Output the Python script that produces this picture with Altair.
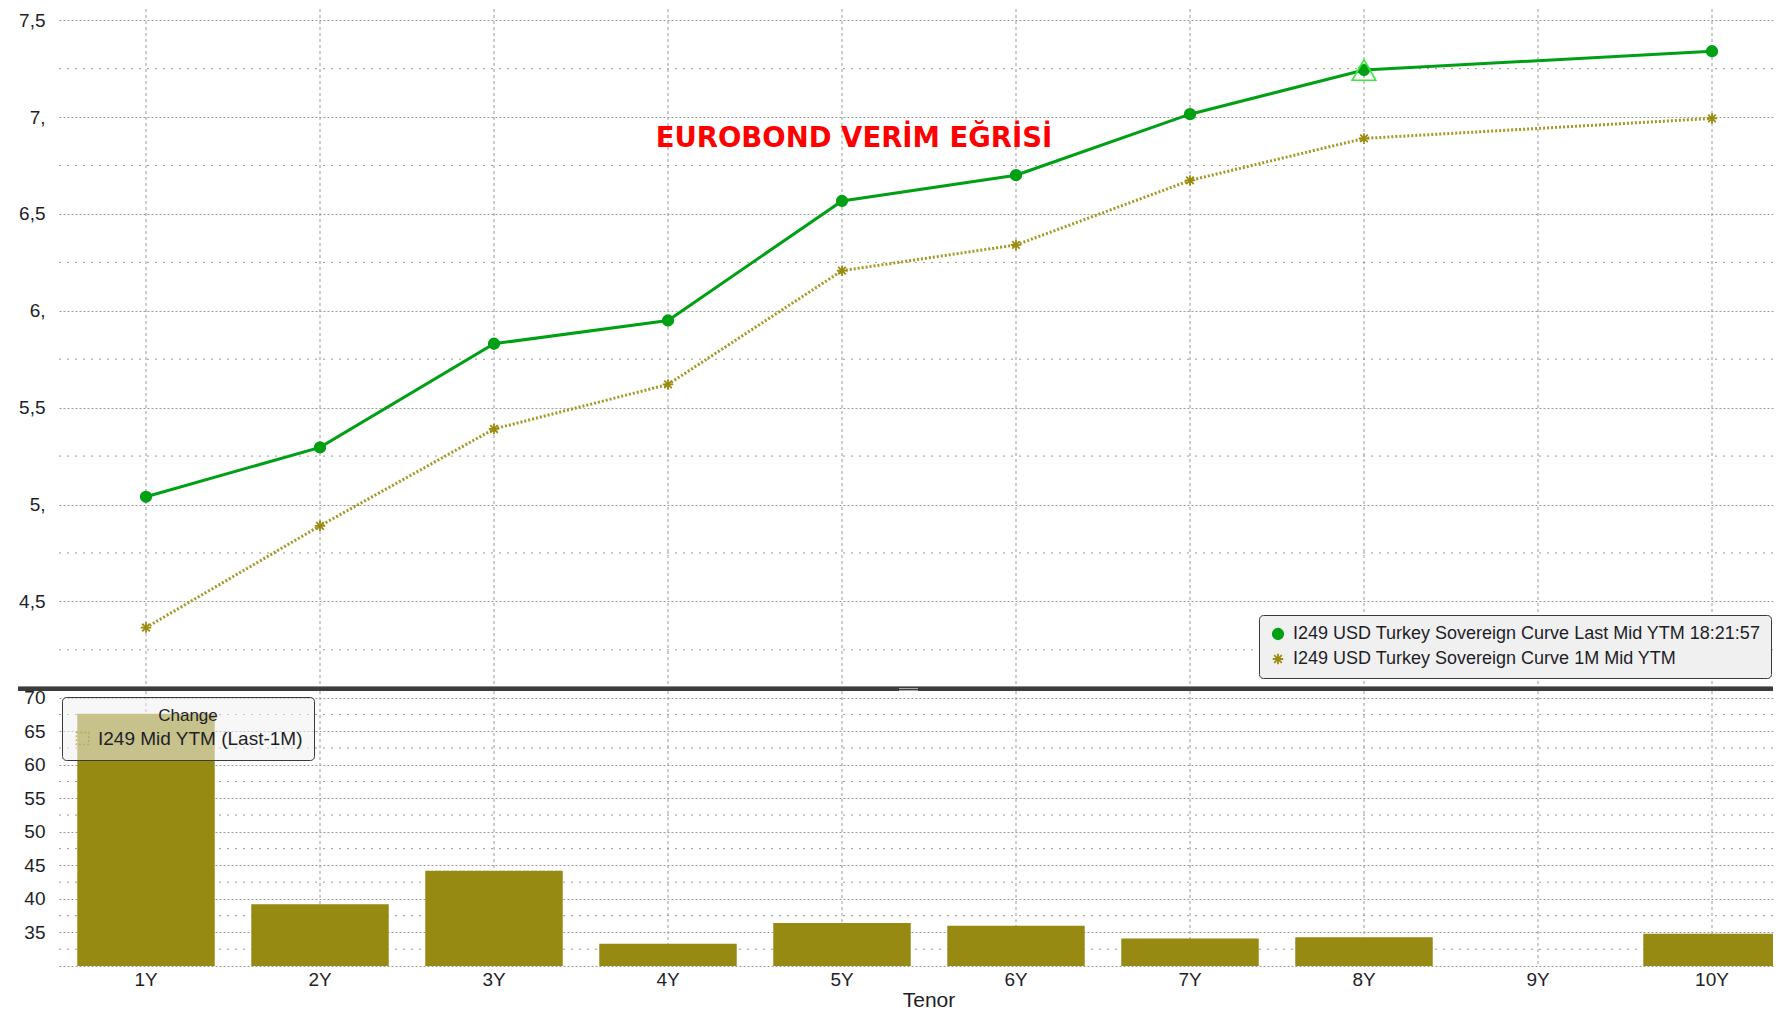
import altair as alt
import pandas as pd

# ---------------- data ----------------
tenors = ["1Y", "2Y", "3Y", "4Y", "5Y", "6Y", "7Y", "8Y", "9Y", "10Y"]
last_mid = [5.04, 5.295, 5.83, 5.95, 6.567, 6.70, 7.015, 7.243, None, 7.34]
one_m_mid = [4.365, 4.89, 5.39, 5.62, 6.207, 6.34, 6.673, 6.89, None, 6.993]
change_bp = [67.6, 39.2, 44.2, 33.3, 36.4, 36.0, 34.1, 34.3, None, 34.8]
series_names = [
    "I249 USD Turkey Sovereign Curve Last Mid YTM 18:21:57",
    "I249 USD Turkey Sovereign Curve 1M Mid YTM",
]
change_name = "I249 Mid YTM (Last-1M)"
highlight_tenor = ["8Y"]
top_ticks = [4.5, 5.0, 5.5, 6.0, 6.5, 7.0, 7.5]
top_minor = [4.25, 4.75, 5.25, 5.75, 6.25, 6.75, 7.25]
bottom_ticks = [30, 35, 40, 45, 50, 55, 60, 65, 70]
bottom_minor = [32.5, 37.5, 42.5, 47.5, 52.5, 57.5, 62.5, 67.5]
chart_title = "EUROBOND VERİM EĞRİSİ"
x_title = "Tenor"

# ---------------- tables ----------------
rows = []
for name, vals in zip(series_names, [last_mid, one_m_mid]):
    for t, v in zip(tenors, vals):
        rows.append({"series": name, "tenor": t, "value": v})
lines_df = pd.DataFrame(rows).dropna()
bars_df = pd.DataFrame({"tenor": tenors, "change": change_bp, "label": change_name}).dropna()
hl_df = pd.DataFrame({"tenor": highlight_tenor,
                      "value": [last_mid[tenors.index(t)] for t in highlight_tenor]})
tenor_df = pd.DataFrame({"tenor": tenors})
top_minor_df = pd.DataFrame({"value": top_minor})
bot_minor_df = pd.DataFrame({"change": bottom_minor})

# ---------------- style ----------------
FONT = "Liberation Sans"
TXT = "#1e1e28"
GRID = "#9a9a9a"
GREEN = "#00a014"
OLIVE_LINE = "#a39824"
OLIVE_BAR = "#968a12"
W = 1714
TOP_H = 678
BOT_H = 275
ASTER = "M-1,0L1,0M0,-1L0,1M-0.72,-0.72L0.72,0.72M-0.72,0.72L0.72,-0.72"

# the plot is cut at the right edge like the reference: the band range runs past the view
x_scale = alt.Scale(domain=tenors, range=[0, 1740], paddingInner=0.21, paddingOuter=0.105)
x_enc = alt.X("tenor:N", scale=x_scale, sort=tenors, axis=None)

# ---------------- top panel ----------------
y_top_scale = alt.Scale(domain=[4.058, 7.558], nice=False, zero=False)
y_top_axis = alt.Axis(title=None, values=top_ticks, ticks=False, domain=False,
                      grid=True, gridDash=[2, 2], gridColor=GRID,
                      labelFont=FONT, labelFontSize=19, labelColor=TXT, labelPadding=14,
                      labelExpr="datum.value % 1 === 0 ? format(datum.value, 'd') + ',' : replace(format(datum.value, '.1f'), '.', ',')")
y_top = alt.Y("value:Q", scale=y_top_scale, axis=y_top_axis)

minor_top = alt.Chart(top_minor_df).mark_rule(color=GRID, strokeDash=[2, 6], strokeWidth=1).encode(y=y_top)
vgrid_top = alt.Chart(tenor_df).mark_rule(color=GRID, strokeDash=[3, 3], strokeWidth=1).encode(x=x_enc)

green_line = alt.Chart(lines_df).transform_filter(
    alt.datum.series == series_names[0]).mark_line(color=GREEN, strokeWidth=3).encode(x=x_enc, y=y_top)
olive_line = alt.Chart(lines_df).transform_filter(
    alt.datum.series == series_names[1]).mark_line(color=OLIVE_LINE, strokeWidth=3, strokeDash=[2, 2]).encode(x=x_enc, y=y_top)

col_scale = alt.Scale(domain=series_names, range=[GREEN, "#9a8c10"])
shape_scale = alt.Scale(domain=series_names, range=["circle", ASTER])
top_legend = alt.Legend(title=None, orient="none", legendX=1200, legendY=606,
                        fillColor="#f0f0f0", strokeColor="#3a3a3a", cornerRadius=4,
                        padding=10, labelFont=FONT, labelFontSize=18, labelColor=TXT,
                        labelLimit=0, symbolSize=110, symbolStrokeWidth=1.8, rowPadding=7,
                        labelOffset=6)
points = alt.Chart(lines_df).mark_point(size=110, strokeWidth=1.8, opacity=1).encode(
    x=x_enc, y=y_top,
    fill=alt.Fill("series:N", scale=col_scale, legend=top_legend, sort=series_names),
    stroke=alt.Stroke("series:N", scale=col_scale, sort=series_names),
    shape=alt.Shape("series:N", scale=shape_scale, sort=series_names),
)

hl = alt.Chart(hl_df).mark_point(shape="triangle-up", filled=False, stroke="#3be83b",
                                 strokeWidth=1.6, size=560, opacity=1).encode(x=x_enc, y=y_top)

title_txt = alt.Chart(pd.DataFrame({"t": [chart_title]})).mark_text(
    font="DejaVu Sans", fontWeight="bold", fontSize=27.5, color="#ff0000", align="center", baseline="middle"
).encode(x=alt.value(795), y=alt.value(130), text="t:N")

one = pd.DataFrame({"d": [0]})
divider = alt.Chart(one).mark_rule(color="#3c3c3c", strokeWidth=4).encode(
    x=alt.value(-41), x2=alt.value(W), y=alt.value(680))
divider_hi = alt.Chart(one).mark_rule(color="#8c8c8c", strokeWidth=1).encode(
    x=alt.value(-41), x2=alt.value(W), y=alt.value(677.5))
grip1 = alt.Chart(one).mark_rule(color="#a8a8a8", strokeWidth=1).encode(
    x=alt.value(840), x2=alt.value(859), y=alt.value(679.5))
grip2 = alt.Chart(one).mark_rule(color="#a8a8a8", strokeWidth=1).encode(
    x=alt.value(840), x2=alt.value(859), y=alt.value(681.5))

top = alt.layer(vgrid_top, minor_top, green_line, olive_line, points, hl, title_txt,
                divider_hi, divider, grip1, grip2).properties(width=W, height=TOP_H)

# ---------------- bottom panel ----------------
y_bot_scale = alt.Scale(domain=[30, 71], nice=False, zero=False)
y_bot_axis = alt.Axis(title=None, values=bottom_ticks, ticks=False, domain=False,
                      grid=True, gridDash=[2, 2], gridColor=GRID,
                      labelFont=FONT, labelFontSize=19, labelColor=TXT, labelPadding=14,
                      labelExpr="datum.value == 30 ? '' : datum.label")
y_bot = alt.Y("change:Q", scale=y_bot_scale, axis=y_bot_axis)

minor_bot = alt.Chart(bot_minor_df).mark_rule(color=GRID, strokeDash=[2, 6], strokeWidth=1).encode(y=y_bot)
vgrid_bot = alt.Chart(tenor_df).mark_rule(color=GRID, strokeDash=[3, 3], strokeWidth=1).encode(x=x_enc)

bars = alt.Chart(bars_df).mark_bar(fill=OLIVE_BAR, clip=True).encode(
    x=x_enc, y=y_bot, y2=alt.datum(30))

x_labels = alt.Chart(tenor_df).mark_text(font=FONT, fontSize=19, color=TXT, baseline="middle").encode(
    x=x_enc, y=alt.value(BOT_H + 14), text="tenor:N")
x_title_txt = alt.Chart(pd.DataFrame({"t": [x_title]})).mark_text(
    font=FONT, fontSize=21, color=TXT, baseline="middle").encode(
    x=alt.value(870), y=alt.value(BOT_H + 35), text="t:N")

bot_legend = alt.Legend(title="Change", orient="none", legendX=3, legendY=6,
                        fillColor="rgba(240,240,240,0.55)", strokeColor="#3a3a3a", cornerRadius=4,
                        padding=11, titleFont=FONT, titleFontSize=17, titleFontWeight="normal",
                        titleColor=TXT, titleAnchor="middle", titlePadding=4,
                        labelFont=FONT, labelFontSize=19, labelColor=TXT, labelLimit=0,
                        symbolType="square", symbolSize=150, symbolStrokeWidth=1.5,
                        symbolDash=[2, 2], symbolFillColor="transparent", labelOffset=6)
ghost = alt.Chart(bars_df).transform_filter("false").mark_point(
    shape="square", filled=False, strokeWidth=1.5, strokeDash=[2, 2]).encode(
    x=x_enc, y=y_bot,
    stroke=alt.Stroke("label:N", scale=alt.Scale(domain=[change_name], range=["#b0a43a"]),
                      legend=bot_legend),
)

bottom = alt.layer(vgrid_bot, minor_bot, bars, x_labels, x_title_txt, ghost).properties(width=W, height=BOT_H)

chart = alt.vconcat(top, bottom, spacing=4, bounds="flush").resolve_scale(
    x="independent", y="independent", fill="independent", stroke="independent", shape="independent"
).resolve_legend(fill="independent", stroke="independent", shape="independent").properties(
    padding={"left": 8, "top": 0, "right": 0, "bottom": 0}, background="white"
).configure_view(stroke=None)

chart.save("out.html", embed_options={"renderer": "svg", "actions": False})
